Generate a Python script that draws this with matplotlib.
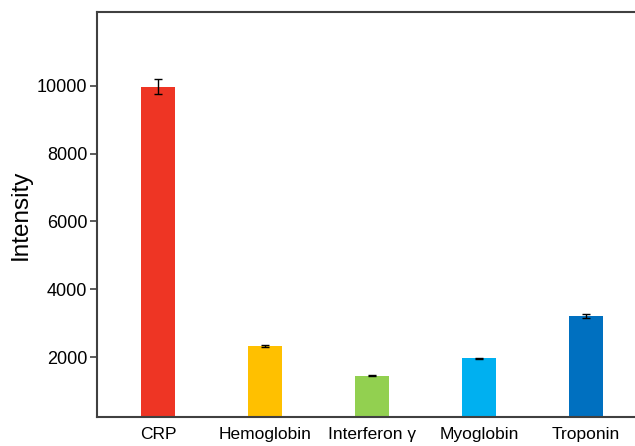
import numpy as np
import matplotlib
matplotlib.use("Agg")
import matplotlib.pyplot as plt

plt.rcParams['font.family'] = ['Liberation Sans', 'DejaVu Sans']

# data
proteins = ['CRP', 'Hemoglobin', 'Interferon γ', 'Myoglobin', 'Troponin']
intensity = [9970, 2330, 1450, 1960, 3200]
errors = [220, 20, 20, 25, 60]
colors = ['#EE3524', '#FFC000', '#92D050', '#00B0F0', '#0070C0']
yticks = [2000, 4000, 6000, 8000, 10000]

fig = plt.figure(figsize=(6.35, 4.46), dpi=100)
# axes run past the right edge of the figure, like the cropped original
ax = fig.add_axes([0.1528, 0.065, 0.866, 0.908])

x = np.arange(len(proteins))
ax.bar(x, intensity, width=0.31, color=colors, edgecolor='none', zorder=2)
ax.errorbar(x, intensity, yerr=errors, fmt='none', ecolor='black',
            elinewidth=1.0, capsize=3, capthick=1.0, zorder=3)

ax.set_xlim(-0.57, 4.57)
ax.set_ylim(230, 12180)
ax.set_yticks(yticks)
ax.set_xticks(x)
ax.set_xticklabels(proteins, fontsize=12.5)
ax.tick_params(axis='x', length=0, pad=7)
ax.tick_params(axis='y', labelsize=13, length=5, width=1.2, color='#404040', pad=2)
ax.set_ylabel('Intensity', fontsize=17.5, labelpad=4)

for s in ax.spines.values():
    s.set_color('#404040')
    s.set_linewidth(1.5)

fig.savefig('out.png', dpi=100)
